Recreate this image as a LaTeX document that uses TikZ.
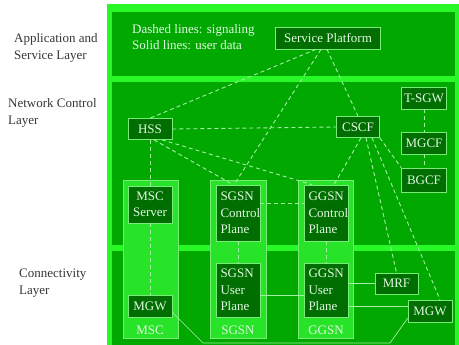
\documentclass[tikz,border=0pt]{standalone}
\usepackage{fontspec}
\setmainfont{Liberation Serif}
\definecolor{bright}{RGB}{40,248,40}
\definecolor{panelgreen}{RGB}{0,168,0}
\definecolor{colgreen}{RGB}{40,228,40}
\definecolor{nodegreen}{RGB}{0,110,0}
\definecolor{boxborder}{RGB}{120,235,120}
\definecolor{nodetext}{RGB}{225,250,225}
\definecolor{linegreen}{RGB}{165,240,165}
\definecolor{labelgray}{RGB}{55,55,55}
\begin{document}
\begin{tikzpicture}[x=1pt,y=-1pt,
  font=\fontsize{13}{16.5}\selectfont,
  panel/.style={fill=panelgreen,draw=none},
  column/.style={fill=colgreen,draw=boxborder,line width=0.6pt},
  box/.style={draw=boxborder,line width=0.7pt,fill=nodegreen,text=nodetext,
    inner sep=0pt,minimum width=44pt,minimum height=22pt},
  tallbox/.style={box,text width=35pt,align=left},
  collabel/.style={text=nodetext,inner sep=0pt},
  layerlabel/.style={text=labelgray,align=left,inner sep=0pt,anchor=west},
  sig/.style={draw=linegreen,line width=0.9pt,dash pattern=on 4pt off 3pt},
  data/.style={draw=linegreen,line width=0.7pt}]
\useasboundingbox (0,0) rectangle (459,345);
\fill[white] (0,0) rectangle (459,345);
% frame and panels
\fill[bright] (107,4) rectangle (459,345);
\fill[panelgreen] (112,12) rectangle (455,76);
\fill[panelgreen] (112,82) rectangle (455,245);
\fill[panelgreen] (112,251) rectangle (455,345);
% columns
\draw[column] (123,180) rectangle (178,338);
\draw[column] (210,180) rectangle (266,338);
\draw[column] (298,180) rectangle (353,338);
% layer labels
\node[layerlabel] (lapp) at (14,48) {Application and\\Service Layer};
\node[layerlabel] (lnet) at (8,113) {Network Control\\Layer};
\node[layerlabel] (lcon) at (19,283) {Connectivity\\Layer};
% legend
\node[text=nodetext,align=left,inner sep=0pt,anchor=west] (legend) at (132,37) {Dashed lines: signaling\\Solid lines: user data};
% nodes
\node[box,minimum width=105pt] (SP) at (328,38) {Service Platform};
\node[box,minimum height=21pt] (HSS) at (150,129) {HSS};
\node[box,minimum width=43pt,minimum height=21pt] (CSCF) at (358,127) {CSCF};
\node[box,minimum width=45pt] (TSGW) at (424,98) {T-SGW};
\node[box,minimum width=45pt] (MGCF) at (424,143) {MGCF};
\node[box,minimum width=45pt,minimum height=24pt] (BGCF) at (424,180) {BGCF};
\node[box,minimum height=37pt,align=center] (MSCS) at (150,204.5) {MSC\\Server};
\node[box] (MGWa) at (150,306) {MGW};
\node[tallbox,minimum height=56pt] (SGCP) at (238,213) {SGSN\\Control\\Plane};
\node[tallbox,minimum height=54pt] (SGUP) at (238,290) {SGSN\\User\\Plane};
\node[tallbox,minimum height=56pt] (GGCP) at (326,213) {GGSN\\Control\\Plane};
\node[tallbox,minimum height=54pt] (GGUP) at (326,290) {GGSN\\User\\Plane};
\node[box,minimum width=43pt,minimum height=21pt] (MRF) at (396.5,283.5) {MRF};
\node[box] (MGWb) at (430,311) {MGW};
% column labels
\node[collabel] (cMSC) at (150,330) {MSC};
\node[collabel] (cSGSN) at (238,330) {SGSN};
\node[collabel] (cGGSN) at (326,330) {GGSN};
% signaling (dashed)
\draw[sig] ([xshift=-12pt]SP.south) -- (HSS.north);
\draw[sig] ([xshift=-7pt]SP.south) -- ([xshift=-4pt]SGCP.north);
\draw[sig] ([xshift=-1pt]SP.south) -- (CSCF.north);
\draw[sig] (HSS.east) -- (CSCF.west);
\draw[sig] (HSS.south) -- (MSCS.north);
\draw[sig] ([xshift=4pt]HSS.south) -- ([xshift=-5pt]SGCP.north);
\draw[sig] ([xshift=12pt]HSS.south) -- ([xshift=-14pt]GGCP.north);
\draw[sig] ([xshift=3pt]CSCF.south) -- ([xshift=8pt]GGCP.north);
\draw[sig] ([xshift=8pt]CSCF.south) -- (MRF.north);
\draw[sig] ([xshift=14pt]CSCF.south) -- ([xshift=10pt]MGWb.north);
\draw[sig] (CSCF.south east) -- (BGCF.north west);
\draw[sig] (TSGW) -- (MGCF);
\draw[sig] (MGCF) -- (BGCF);
\draw[sig] (MSCS) -- (MGWa);
\draw[sig] (SGCP) -- (SGUP);
\draw[sig] (GGCP) -- (GGUP);
\draw[sig] ([yshift=10pt]SGCP.east) -- ([yshift=10pt]GGCP.west);
% user data (solid)
\draw[data] ([yshift=-5pt]SGUP.east) -- ([yshift=-5pt]GGUP.west);
\draw[data] (GGUP.east |- MRF.west) -- (MRF.west);
\draw[data] ([yshift=-16pt]GGUP.east) -- ([yshift=-16pt]GGUP.east -| MGWb.west);
\coordinate (b1) at (203,343);
\coordinate (b2) at (390,343);
\draw[data] ([yshift=5pt]MGWa.south east) -- (b1) -- (b2) -- ([yshift=4pt]MGWb.south west);
\end{tikzpicture}
\end{document}
